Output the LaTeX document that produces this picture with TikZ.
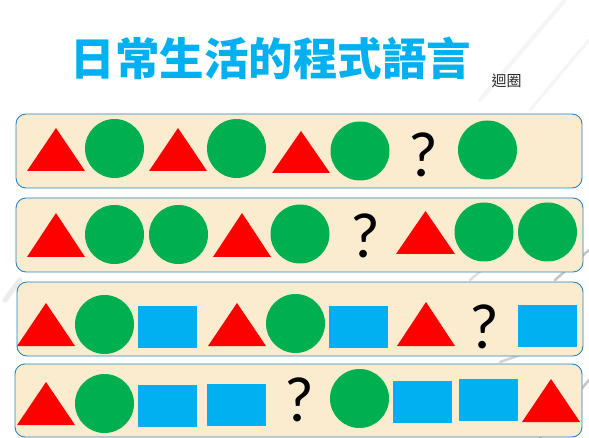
\documentclass[tikz,border=0pt]{standalone}
\usepackage{fontspec}
\setmainfont{Carlito}
\newfontfamily\cjk{Noto Sans CJK TC}
\definecolor{titleblue}{RGB}{0,176,240}
\definecolor{trired}{RGB}{255,0,0}
\definecolor{cgreen}{RGB}{0,176,80}
\definecolor{sqblue}{RGB}{0,176,240}
\definecolor{boxfill}{RGB}{251,236,208}
\definecolor{boxline}{RGB}{41,133,190}
\newcommand{\mytri}[4]{\fill[trired] (#1,#3) -- (#2,#3) -- ({(#1+#2)/2},#4) -- cycle;}
\newcommand{\mycirc}[2]{\fill[cgreen] (#1,#2) circle[radius=29.5pt];}
\newcommand{\myrect}[4]{\fill[sqblue] (#1,#2) rectangle (#3,#4);}
\tikzset{
  rowbox/.style={draw=boxline, fill=boxfill, line width=0.9pt, rounded corners=10pt},
  qmark/.style={font=\fontsize{64}{64}\selectfont, text=black, inner sep=0pt},
  bgline/.style={draw=gray!25, line width=2.5pt, line cap=round}
}
\begin{document}
\begin{tikzpicture}[x=1pt,y=-1pt]
\useasboundingbox (0,0) rectangle (589,438);
\fill[white] (0,0) rectangle (589,438);
% faint background photo strokes
\draw[bgline, gray!8, line width=4pt] (480,100) -- (565,0);
\draw[bgline, gray!8, line width=3pt] (530,110) -- (589,40);
\draw[bgline] (470,280) -- (500,255);
\draw[bgline, gray!45] (540,438) -- (589,380);
\draw[bgline, gray!45] (555,280) -- (589,250);
\draw[bgline, gray!35] (500,362) -- (520,355);
\draw[bgline, gray!15, line width=5pt] (20,280) -- (5,300);
% title
\node[font=\cjk\bfseries\fontsize{44.5}{45}\selectfont, text=titleblue, inner sep=0pt] (title) at (271,58.5) {日常生活的程式語言};
\node[font=\cjk\fontsize{15}{15}\selectfont, text=black!85, inner sep=0pt] (loop) at (506.5,81) {迴圈};
% row boxes
\draw[rowbox] (16,114) rectangle (582,188);
\draw[rowbox] (16,198) rectangle (583,272);
\draw[rowbox] (17,282) rectangle (583,356);
\draw[rowbox] (15,364) rectangle (582,437);
% row 1
\mytri{27}{85}{171}{128}
\mycirc{114.5}{148.5}
\mytri{149}{207}{171}{128}
\mycirc{236.5}{148.5}
\mytri{272}{330}{173}{131}
\mycirc{360}{151}
\node[qmark] (q1) at (423,155) {?};
\mycirc{487.5}{150}
% row 2
\mytri{27}{85}{257}{213}
\mycirc{114.5}{234.5}
\mycirc{178.5}{234.5}
\mytri{213}{271}{257}{213}
\mycirc{300}{234}
\node[qmark] (q2) at (365,236) {?};
\mytri{396}{455}{254}{211}
\mycirc{484}{232}
\mycirc{547.5}{232}
% row 3
\mytri{17}{75}{346}{303}
\mycirc{104.5}{324.5}
\myrect{138}{306}{197}{348}
\mytri{208}{266}{346}{303}
\mycirc{295.5}{323.5}
\myrect{329}{306}{388}{348}
\mytri{397}{455}{346}{302}
\node[qmark] (q3) at (484,326.5) {?};
\myrect{518}{305}{577}{347}
% row 4
\mytri{17}{75}{425}{382}
\mycirc{104.5}{403.5}
\myrect{138}{385}{197}{427}
\myrect{207}{384}{266}{426}
\node[qmark] (q4) at (299,400) {?};
\mycirc{359.5}{398.5}
\myrect{393}{381}{452}{423}
\myrect{459}{379}{518}{421}
\mytri{522}{580}{422}{379}
\end{tikzpicture}
\end{document}
